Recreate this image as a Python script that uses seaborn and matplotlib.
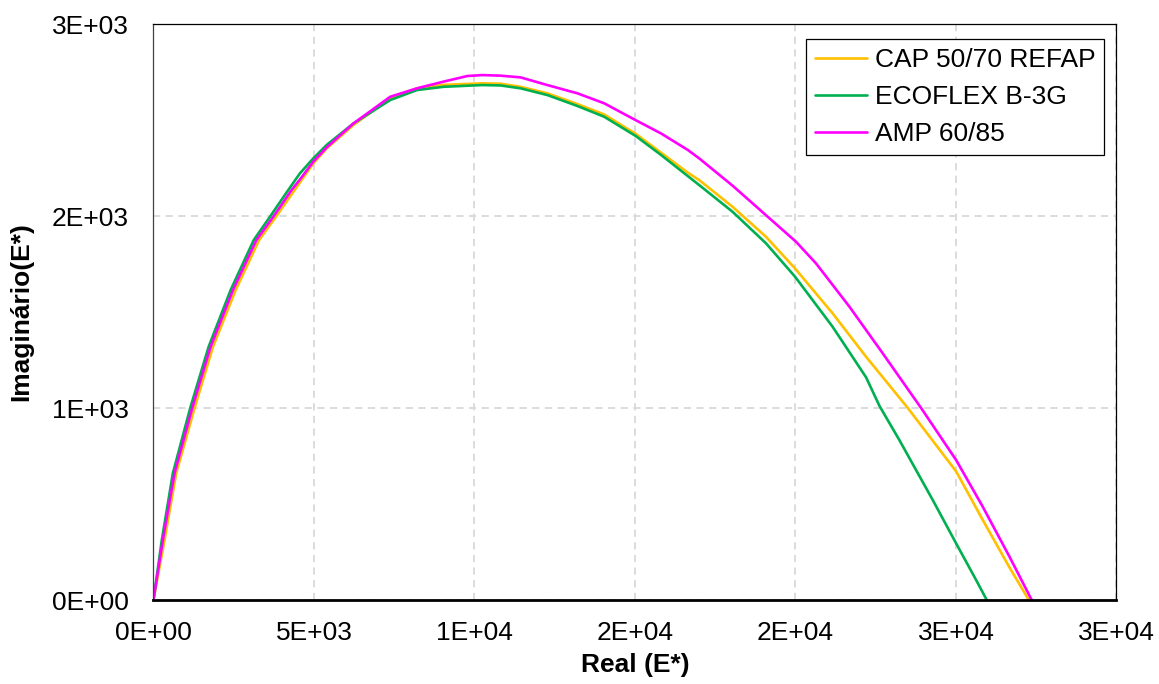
import pandas as pd
import seaborn as sns
import matplotlib
matplotlib.use("Agg")
import matplotlib.pyplot as plt

# Cole-Cole curves
cap_real = [0, 344, 708, 1281, 1854, 2563, 3292, 3833, 4375, 4979, 5396, 6229, 7375, 8208,
            9042, 10240, 10812, 11437, 12271, 13208, 14041, 15031, 15812, 16646, 17003,
            18041, 19081, 19987, 21158, 22199, 23500, 25005, 25834, 26666, 27270]
cap_imag = [0, 312, 660, 1000, 1319, 1615, 1875, 2000, 2130, 2274, 2352, 2474, 2613, 2665,
            2683, 2691, 2689, 2673, 2639, 2583, 2529, 2427, 2330, 2226, 2187,
            2048, 1892, 1727, 1493, 1267, 1000, 670, 417, 170, 0]

eco_real = [0, 260, 604, 1146, 1719, 2406, 3125, 3646, 4198, 4562, 4979, 5396, 6229, 7375,
            8208, 9042, 10240, 10812, 11437, 12271, 13208, 14041, 15031, 15812, 16646,
            17003, 18041, 19081, 19987, 21158, 22199, 22620, 23237, 24276, 25005, 25628, 25960]
eco_imag = [0, 312, 660, 1000, 1319, 1615, 1875, 2000, 2135, 2222, 2300, 2370, 2482, 2604,
            2656, 2673, 2682, 2680, 2665, 2630, 2573, 2517, 2416, 2318, 2208,
            2161, 2022, 1858, 1684, 1423, 1160, 1010, 833, 521, 295, 104, 0]

amp_real = [0, 292, 656, 1208, 1781, 2479, 3208, 3750, 4302, 4562, 4979, 5396, 6229, 7375,
            8208, 9042, 9771, 10240, 10812, 11437, 12271, 13208, 14041, 14979, 15812, 16646,
            17003, 18041, 20017, 20641, 21680, 22717, 23914, 25005, 25834, 26666, 27360]
amp_imag = [0, 312, 660, 1000, 1319, 1615, 1875, 2000, 2135, 2190, 2283, 2357, 2482, 2621,
            2665, 2700, 2729, 2734, 2731, 2722, 2682, 2639, 2587, 2503, 2430, 2344,
            2300, 2158, 1866, 1753, 1528, 1285, 1000, 729, 486, 226, 0]

series_names = ["CAP 50/70 REFAP", "ECOFLEX B-3G", "AMP 60/85"]
series_colors = ["#FFC000", "#00B050", "#FF00FF"]

x_ticks = [0, 5000, 10000, 15000, 20000, 25000, 30000]
x_tick_labels = ["0E+00", "5E+03", "1E+04", "2E+04", "2E+04", "3E+04", "3E+04"]
y_ticks = [0, 1000, 2000, 3000]
y_tick_labels = ["0E+00", "1E+03", "2E+03", "3E+03"]

frames = []
for name, xs, ys in zip(series_names,
                        [cap_real, eco_real, amp_real],
                        [cap_imag, eco_imag, amp_imag]):
    frames.append(pd.DataFrame({"real": xs, "imag": ys, "serie": name}))
df = pd.concat(frames, ignore_index=True)

sns.set_style("white")
plt.rcParams["font.family"] = ["Liberation Sans", "DejaVu Sans"]
plt.rcParams["text.color"] = "black"
plt.rcParams["axes.labelcolor"] = "black"
plt.rcParams["xtick.color"] = "black"
plt.rcParams["ytick.color"] = "black"

fig = plt.figure(figsize=(11.59, 6.84), dpi=100)
ax = fig.add_axes([0.1324, 0.1228, 0.8309, 0.8421])

sns.lineplot(data=df, x="real", y="imag", hue="serie", hue_order=series_names,
             palette=dict(zip(series_names, series_colors)), sort=False,
             estimator=None, linewidth=1.9, ax=ax)

ax.set_xlim(0, 30000)
ax.set_ylim(0, 3000)
ax.set_xticks(x_ticks)
ax.set_xticklabels(x_tick_labels)
ax.set_yticks(y_ticks)
ax.set_yticklabels(y_tick_labels)
ax.tick_params(axis="both", length=0, labelsize=19, labelcolor="black")
ax.tick_params(axis="x", pad=15)
ax.tick_params(axis="y", pad=18)

ax.grid(True, color="#D9D9D9", linestyle=(0, (4, 3)), linewidth=1.3)
ax.set_axisbelow(True)

for side in ["top", "right"]:
    ax.spines[side].set_color("black")
    ax.spines[side].set_linewidth(0.9)
ax.spines["left"].set_color("#404040")
ax.spines["left"].set_linewidth(0.9)
ax.spines["bottom"].set_color("black")
ax.spines["bottom"].set_linewidth(2)

ax.set_xlabel("Real (E*)", fontsize=19, fontweight="bold", labelpad=6, color="black")
ax.set_ylabel("Imaginário(E*)", fontsize=19, fontweight="bold", labelpad=13, color="black")

leg = ax.legend(loc="upper right", bbox_to_anchor=(0.9875, 0.974), borderaxespad=0,
                fontsize=19, frameon=True, fancybox=False, edgecolor="black",
                framealpha=1, handlelength=1.97, handletextpad=0.3, borderpad=0.34,
                labelspacing=0.5)
leg.get_frame().set_linewidth(0.9)
for t in leg.get_texts():
    t.set_color("black")

fig.savefig("out.png", dpi=100)
